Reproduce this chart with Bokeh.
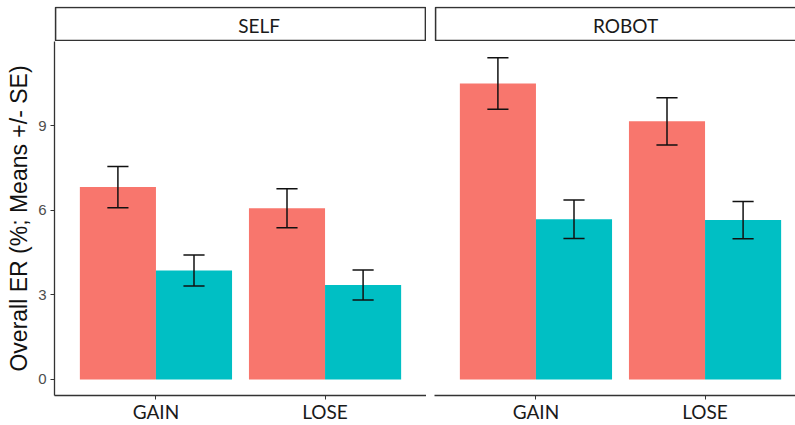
from bokeh.plotting import figure
from bokeh.layouts import column, row
from bokeh.models import Range1d, FixedTicker, ColumnDataSource
from bokeh.core.properties import value
from bokeh.embed import file_html
from bokeh.resources import INLINE

# ---------------- data ----------------
facets = ["SELF", "ROBOT"]
categories = ["GAIN", "LOSE"]
tick_values = [0, 3, 6, 9]

self_red_mean = [6.82, 6.07]
self_red_se = [0.73, 0.69]
self_teal_mean = [3.86, 3.35]
self_teal_se = [0.55, 0.53]

robot_red_mean = [10.49, 9.15]
robot_red_se = [0.91, 0.84]
robot_teal_mean = [5.68, 5.65]
robot_teal_se = [0.68, 0.66]

y_axis_title = "Overall ER (%; Means +/- SE)"

# ---------------- style / layout ----------------
RED = "#F8766D"
TEAL = "#00BFC4"
AXIS_COL = "#333333"
BAR_W = 0.45
CAP_HALF = 0.0625
X_LO, X_HI = 0.4, 2.6
Y_LO, Y_HI = -0.57, 11.98
FRAME_W = 372
PX_PER_X = FRAME_W / (X_HI - X_LO)
LEFT_BORDER = 54
GAP_BORDER = 8
LEFT_W = LEFT_BORDER + FRAME_W
RIGHT_W = 795 - LEFT_W
STRIP_TOP = 6
STRIP_FRAME_H = 35
STRIP_H = STRIP_TOP + STRIP_FRAME_H
PANEL_H = 425 - STRIP_H

x_left = Range1d(X_LO, X_HI)
x_right = Range1d(X_LO, X_LO + (RIGHT_W - GAP_BORDER) / PX_PER_X)
y_panel = Range1d(Y_LO, Y_HI)


def make_strip(name, xr, w, border, label_x, clip_right):
    s = figure(width=w, height=STRIP_H, x_range=xr, y_range=Range1d(0, 1),
               output_backend="svg", toolbar_location=None,
               x_axis_location=None, y_axis_location=None,
               min_border_left=border, min_border_right=0,
               min_border_top=STRIP_TOP, min_border_bottom=0)
    s.outline_line_color = None
    s.xgrid.visible = False
    s.ygrid.visible = False
    s.background_fill_color = "white"
    s.border_fill_color = "white"
    ix = 1.0 / PX_PER_X
    iy = 1.0 / STRIP_FRAME_H
    right_edge = X_HI if clip_right else X_HI - ix
    s.quad(left=[X_LO + ix], right=[right_edge], bottom=[iy], top=[1 - iy],
           fill_color="white", line_color=AXIS_COL, line_width=1.7)
    s.text(x=[label_x], y=[0.46], text=[name], text_font=value("Lato"),
           text_font_size="19px", text_color="#1A1A1A",
           text_align="center", text_baseline="middle")
    return s


def make_panel(xr, w, border, show_y, red_mean, red_se, teal_mean, teal_se):
    p = figure(width=w, height=PANEL_H, x_range=xr, y_range=y_panel,
               output_backend="svg", toolbar_location=None,
               y_axis_location="left" if show_y else None,
               min_border_left=border, min_border_right=0,
               min_border_top=0, min_border_bottom=20)
    p.outline_line_color = None
    p.xgrid.visible = False
    p.ygrid.visible = False
    p.background_fill_color = "white"
    p.border_fill_color = "white"

    centers = [i + 1 for i in range(len(categories))]
    red_x = [c - BAR_W / 2 for c in centers]
    teal_x = [c + BAR_W / 2 for c in centers]

    for xs, means, ses, col in ((red_x, red_mean, red_se, RED),
                                (teal_x, teal_mean, teal_se, TEAL)):
        lo = [m - e for m, e in zip(means, ses)]
        hi = [m + e for m, e in zip(means, ses)]
        src = ColumnDataSource(dict(
            x=xs, top=means, lo=lo, hi=hi,
            xl=[x - CAP_HALF for x in xs], xr=[x + CAP_HALF for x in xs]))
        p.vbar(x="x", top="top", bottom=0, width=BAR_W, source=src,
               fill_color=col, line_color=None)
        p.segment(x0="x", y0="lo", x1="x", y1="hi", source=src,
                  line_color="#111111", line_width=1.5)
        p.segment(x0="xl", y0="hi", x1="xr", y1="hi", source=src,
                  line_color="#111111", line_width=1.5)
        p.segment(x0="xl", y0="lo", x1="xr", y1="lo", source=src,
                  line_color="#111111", line_width=1.5)

    ax = p.xaxis[0]
    ax.ticker = FixedTicker(ticks=centers)
    ax.major_label_overrides = {c: n for c, n in zip(centers, categories)}
    ax.axis_line_color = AXIS_COL
    ax.axis_line_width = 1.3
    ax.major_tick_line_color = AXIS_COL
    ax.major_tick_out = 4
    ax.major_tick_in = 0
    ax.minor_tick_line_color = None
    ax.major_label_text_font = "Lato"
    ax.major_label_text_font_size = "19px"
    ax.major_label_text_color = "#1A1A1A"
    ax.major_label_standoff = 0

    if show_y:
        ay = p.yaxis[0]
        ay.ticker = FixedTicker(ticks=tick_values)
        ay.axis_line_color = AXIS_COL
        ay.axis_line_width = 1.3
        ay.major_tick_line_color = AXIS_COL
        ay.major_tick_out = 4
        ay.major_tick_in = 0
        ay.minor_tick_line_color = None
        ay.major_label_text_font = "Liberation Sans"
        ay.major_label_text_font_size = "15px"
        ay.major_label_text_color = "#4D4D4D"
        ay.major_label_standoff = 4
        ay.axis_label = y_axis_title
        ay.axis_label_text_font = "Liberation Sans"
        ay.axis_label_text_font_size = "23px"
        ay.axis_label_text_font_style = "normal"
        ay.axis_label_text_color = "#111111"
        ay.axis_label_standoff = 3
    return p


s1 = make_strip(facets[0], x_left, LEFT_W, LEFT_BORDER, 1.61, False)
s2 = make_strip(facets[1], x_right, RIGHT_W, GAP_BORDER, 1.53, True)
p1 = make_panel(x_left, LEFT_W, LEFT_BORDER, True,
                self_red_mean, self_red_se, self_teal_mean, self_teal_se)
p2 = make_panel(x_right, RIGHT_W, GAP_BORDER, False,
                robot_red_mean, robot_red_se, robot_teal_mean, robot_teal_se)

layout = column(row(s1, s2), row(p1, p2))
open("out.html", "w").write(file_html(layout, INLINE))
